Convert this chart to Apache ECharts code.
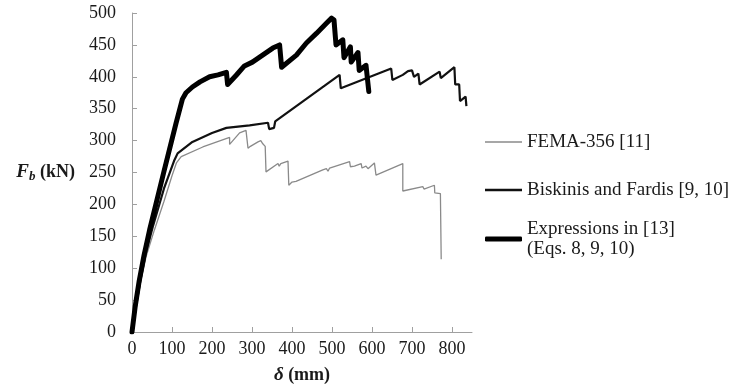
<!DOCTYPE html>
<html>
<head>
<meta charset="utf-8">
<script src="https://cdn.jsdelivr.net/npm/echarts@6/dist/echarts.min.js"></script>
<style>html,body{margin:0;padding:0;background:#fff;}#c{width:736px;height:385px;}</style>
</head>
<body>
<div id="c"></div>
<script>
// Displacement (mm) vs base shear (kN)
var xTicks = [0, 100, 200, 300, 400, 500, 600, 700, 800];
var seriesNames = ['FEMA-356 [11]', 'Biskinis and Fardis [9, 10]', 'Expressions in [13]\n(Eqs. 8, 9, 10)'];

var femaData = [
  [0,0],[10,38],[22,80],[36,120],[56,160],[80,205],[100,245],[111,265],[123,275],[177,290],
  [244,305],[244,294],[269,312],[285,316],[288,319],[290,288],[296,291],[315,298],[318,295],
  [322,300],[327,295],[333,291],[335,251],[365,264],[368,260],[372,264],[390,268],[392,230],
  [400,235],[405,232],[410,236],[477,254],[486,256],[490,252],[494,257],[544,267],[546,259],
  [556,260],[573,264],[575,257],[585,260],[590,256],[606,265],[610,246],[677,264],[677,221],
  [727,228],[730,224],[735,226],[756,230],[757,218],[771,217],[773,114]
];

var biskinisData = [
  [0,0],[10,40],[22,85],[35,125],[52,165],[80,225],[105,268],[114,280],[151,298],[200,312],
  [236,320],[294,324],[340,328],[343,318],[355,320],[358,330],[519,403],[522,382],[648,413],
  [651,395],[677,403],[690,409],[694,406],[700,410],[705,400],[716,405],[719,388],[769,408],
  [772,398],[806,415],[808,388],[818,388],[820,362],[834,369],[836,354]
];

var expressionsData = [
  [0,0],[8,40],[18,80],[30,120],[44,160],[80,252],[110,327],[126,365],[135,375],[151,384],
  [170,392],[194,400],[215,403],[236,407],[239,388],[260,402],[281,417],[301,423],[352,445],
  [369,450],[374,415],[411,434],[436,453],[461,468],[486,484],[499,492],[505,489],[508,490],
  [510,450],[527,458],[530,430],[546,447],[548,423],[565,438],[568,410],[585,418],[590,416],
  [592,377]
];

var FONT = "'Liberation Serif','Times New Roman',serif";
var chart = echarts.init(document.getElementById('c'), null, {renderer: 'canvas'});

var legendText = {fontFamily: FONT, fontSize: 19, color: '#1a1a1a', lineHeight: 20};

chart.setOption({
  animation: false,
  backgroundColor: '#fff',
  grid: {left: 132, right: 264, top: 13, bottom: 53, containLabel: false, outerBoundsMode: 'none'},
  xAxis: {
    type: 'value', min: 0, max: 850, interval: 100,
    name: '{i|δ}{b| (mm)}', nameLocation: 'middle', nameGap: 34,
    nameTextStyle: {rich: {
      i: {fontFamily: FONT, fontSize: 19, fontStyle: 'italic', fontWeight: 'bold', color: '#1a1a1a'},
      b: {fontFamily: FONT, fontSize: 18, fontWeight: 'bold', color: '#1a1a1a'}
    }},
    axisLine: {lineStyle: {color: '#a0a0a0', width: 1}},
    axisTick: {inside: true, length: 5, lineStyle: {color: '#a0a0a0'}, customValues: xTicks},
    axisLabel: {fontFamily: FONT, fontSize: 18, color: '#1a1a1a', margin: 8, customValues: xTicks},
    splitLine: {show: false}
  },
  yAxis: {
    type: 'value', min: 0, max: 500, interval: 50,
    name: '{i|F}{s|b}{b| (kN)}', nameLocation: 'middle', nameRotate: 0, nameGap: 57,
    nameTextStyle: {align: 'right', rich: {
      i: {fontFamily: FONT, fontSize: 19, fontStyle: 'italic', fontWeight: 'bold', color: '#1a1a1a'},
      s: {fontFamily: FONT, fontSize: 13, fontStyle: 'italic', fontWeight: 'bold', color: '#1a1a1a', padding: [9, 0, 0, 0]},
      b: {fontFamily: FONT, fontSize: 18, fontWeight: 'bold', color: '#1a1a1a'}
    }},
    axisLine: {show: true, lineStyle: {color: '#a0a0a0', width: 1}},
    axisTick: {show: true, inside: true, length: 5, lineStyle: {color: '#a0a0a0'}},
    axisLabel: {fontFamily: FONT, fontSize: 18, color: '#1a1a1a', margin: 16},
    splitLine: {show: false}
  },
  legend: [
    {left: 485, top: 132, padding: 0, icon: 'rect', itemWidth: 37, itemHeight: 1.5,
     itemStyle: {borderWidth: 0}, data: [seriesNames[0]], textStyle: legendText, selectedMode: false},
    {left: 485, top: 180, padding: 0, icon: 'rect', itemWidth: 37, itemHeight: 2.5,
     itemStyle: {borderWidth: 0}, data: [seriesNames[1]], textStyle: legendText, selectedMode: false},
    {left: 485, top: 209, padding: 0, icon: 'roundRect', itemWidth: 37, itemHeight: 5,
     itemStyle: {borderWidth: 0}, data: [seriesNames[2]],
     textStyle: {fontFamily: FONT, fontSize: 19, color: '#1a1a1a', lineHeight: 20, padding: [20, 0, 0, 0]},
     selectedMode: false}
  ],
  series: [
    {name: seriesNames[0], type: 'line', data: femaData, symbol: 'none', color: '#8a8a8a',
     lineStyle: {color: '#8a8a8a', width: 1.3}},
    {name: seriesNames[1], type: 'line', data: biskinisData, symbol: 'none', color: '#111',
     lineStyle: {color: '#111', width: 2.2}},
    {name: seriesNames[2], type: 'line', data: expressionsData, symbol: 'none', color: '#000',
     lineStyle: {color: '#000', width: 5, cap: 'round', join: 'round'}}
  ]
});
</script>
</body>
</html>
